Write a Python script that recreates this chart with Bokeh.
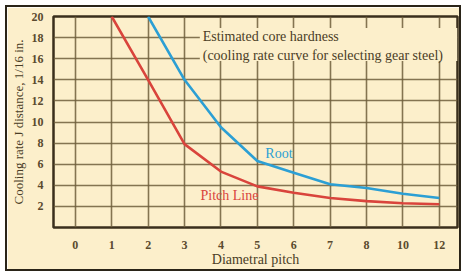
from bokeh.plotting import figure
from bokeh.models import Range1d, FixedTicker
from bokeh.core.properties import value
from bokeh.embed import file_html
from bokeh.resources import INLINE

# ---- data ----
tick_labels = ["0", "1", "2", "3", "4", "5", "6", "7", "8", "10", "12"]
y_ticks = [2, 4, 6, 8, 10, 12, 14, 16, 18, 20]

pitch_line_x = [1, 2, 3, 4, 5, 6, 7, 8, 10, 12]
pitch_line_y = [20, 14, 7.9, 5.3, 3.9, 3.3, 2.8, 2.5, 2.3, 2.2]

root_x = [2, 3, 4, 5, 6, 7, 8, 10, 12]
root_y = [20, 14, 9.5, 6.3, 5.2, 4.1, 3.75, 3.2, 2.8]

title_lines = ["Estimated core hardness",
               "(cooling rate curve for selecting gear steel)"]

def pos(v):
    return tick_labels.index(str(v))

BG = "#fcefcb"
INK = "#4a3d26"
RED = "#d9443c"
BLUE = "#2c9fd4"
SERIF = "Liberation Serif"

p = figure(width=452, height=262, output_backend="svg", toolbar_location=None,
           x_range=Range1d(-0.6, 10.5), y_range=Range1d(0, 20),
           min_border_left=46, min_border_right=2, min_border_top=9,
           min_border_bottom=36)
p.styles = {"margin": "7px 0 0 7px", "outline": "2px solid #2a2418",
            "outline-offset": "0px"}

p.background_fill_color = BG
p.border_fill_color = BG
p.outline_line_color = "#3a2f1c"
p.outline_line_width = 2.5

# grid
p.xgrid.ticker = FixedTicker(ticks=list(range(len(tick_labels))))
p.ygrid.ticker = FixedTicker(ticks=y_ticks)
for g in (p.xgrid, p.ygrid):
    g.grid_line_color = "#6e5e3c"
    g.grid_line_width = 1.6
    g.grid_line_alpha = 0.85

# axes
p.xaxis.ticker = FixedTicker(ticks=list(range(len(tick_labels))))
p.xaxis.major_label_overrides = {i: t for i, t in enumerate(tick_labels)}
p.yaxis.ticker = FixedTicker(ticks=y_ticks)
for ax in (p.xaxis, p.yaxis):
    ax.axis_line_color = None
    ax.major_tick_line_color = None
    ax.minor_tick_line_color = None
    ax.major_label_text_font = SERIF
    ax.major_label_text_font_size = "12px"
    ax.major_label_text_color = "#5a4a2e"
    ax.major_label_text_font_style = "bold"
    ax.axis_label_text_font = SERIF
    ax.axis_label_text_font_style = "normal"
    ax.axis_label_text_color = INK
p.xaxis.axis_label = "Diametral pitch"
p.xaxis.axis_label_text_font_size = "14px"
p.xaxis.major_label_standoff = 7
p.xaxis.axis_label_standoff = 0
p.yaxis.axis_label = "Cooling rate J distance, 1/16 in."
p.yaxis.axis_label_text_font_size = "13px"
p.yaxis.major_label_standoff = 4
p.yaxis.axis_label_standoff = 3

# cover box behind title text
p.quad(left=3.42, right=10.5, bottom=15.78, top=18.9,
       fill_color=BG, line_color=None)

# curves
p.line([pos(v) for v in pitch_line_x], pitch_line_y, line_color=RED,
       line_width=2.6, line_join="round")
p.line([pos(v) for v in root_x], root_y, line_color=BLUE,
       line_width=2.6, line_join="round")

# texts
p.text(x=[3.5, 3.5], y=[18.1, 16.3], text=title_lines,
       text_font=value(SERIF), text_font_size="14px", text_color=INK,
       text_baseline="middle", text_align="left")
p.text(x=[5.22], y=[7.0], text=["Root"], text_font=value(SERIF),
       text_font_size="14px", text_color=BLUE, text_baseline="middle")
p.text(x=[3.44], y=[3.08], text=["Pitch Line"], text_font=value(SERIF),
       text_font_size="14px", text_color=RED, text_baseline="middle")

open("out.html", "w").write(file_html(p, INLINE))
